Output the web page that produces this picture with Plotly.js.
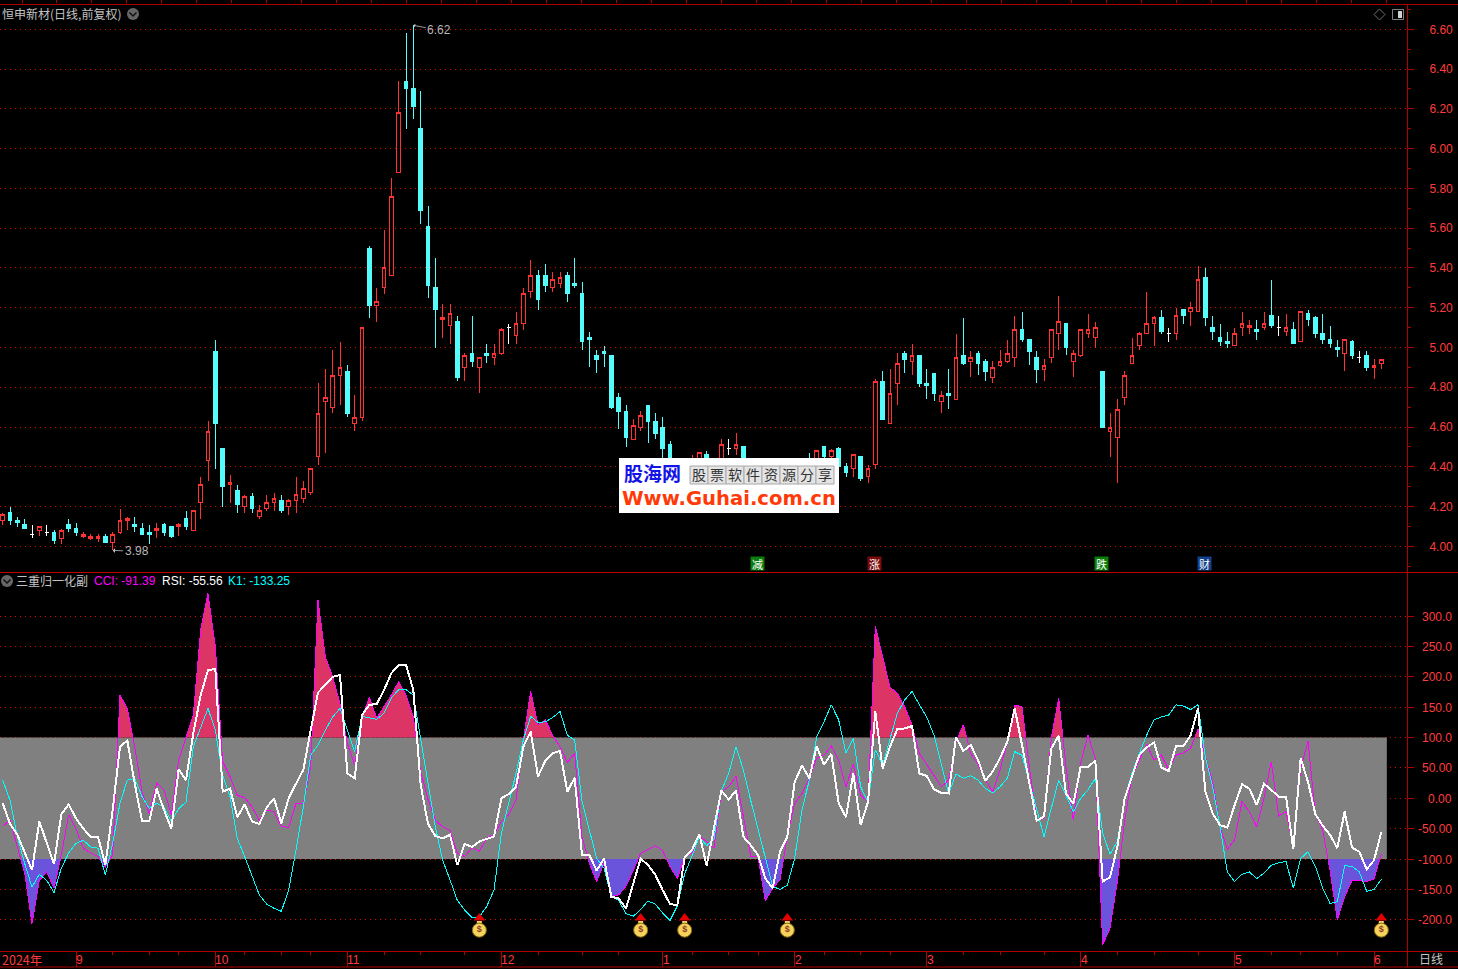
<!DOCTYPE html>
<html>
<head>
<meta charset="utf-8">
<script src="https://cdn.plot.ly/plotly-3.0.1.min.js"></script>
<style>
html,body{margin:0;padding:0;background:#000;overflow:hidden}
path.js-line{shape-rendering:crispEdges}
path.box{shape-rendering:crispEdges}
</style>
</head>
<body>
<div id="chart" style="width:1458px;height:969px"></div>
<script>
// ---------- price data, bar by bar ----------
const open = [
4.13,4.17,4.13,4.11,4.06,4.08,4.07,4.07,4.04,4.11,
4.09,4.05,4.04,4.04,4.05,4.02,4.07,4.13,4.11,4.09,
4.07,4.08,4.11,4.10,4.10,4.14,4.08,4.22,4.43,4.98,
4.49,4.31,4.28,4.20,4.25,4.15,4.19,4.22,4.23,4.20,
4.23,4.24,4.27,4.45,4.73,4.70,4.86,4.88,4.62,4.65,
5.50,5.21,5.30,5.36,5.88,6.34,6.30,6.10,5.61,5.30,
5.14,5.11,5.13,4.90,4.97,4.90,4.97,4.95,4.97,5.10,
5.06,5.12,5.28,5.36,5.36,5.30,5.32,5.36,5.32,5.27,
5.05,4.96,4.98,4.96,4.75,4.68,4.54,4.60,4.71,4.63,
4.60,4.51,4.41,4.33,4.38,4.38,4.46,4.40,4.39,4.49,
4.49,4.50,4.40,4.33,4.37,4.31,4.33,4.39,4.35,4.36,
4.43,4.41,4.50,4.45,4.49,4.40,4.39,4.45,4.35,4.41,
4.83,4.62,4.82,4.97,4.93,4.96,4.82,4.87,4.73,4.77,
4.74,4.96,4.93,4.97,4.93,4.85,4.91,4.93,4.95,5.09,
5.04,4.95,4.89,4.95,5.07,5.12,4.93,4.96,5.07,5.05,
4.88,4.58,4.55,4.75,4.92,5.01,5.07,5.12,5.15,5.07,
5.07,5.19,5.18,5.18,5.35,5.10,5.05,5.03,5.01,5.10,
5.10,5.09,5.10,5.16,5.10,5.08,5.09,5.03,5.17,5.15,
5.07,5.04,5.00,4.97,5.03,4.95,4.96,4.90,4.92];
const high = [
4.17,4.20,4.15,4.14,4.11,4.10,4.11,4.08,4.09,4.14,
4.12,4.07,4.06,4.06,4.06,4.07,4.19,4.15,4.15,4.12,
4.11,4.12,4.12,4.10,4.12,4.18,4.18,4.35,4.63,5.04,
4.49,4.36,4.31,4.26,4.27,4.21,4.26,4.27,4.26,4.24,
4.35,4.33,4.39,4.82,4.89,4.99,5.03,4.91,4.76,5.10,
5.51,5.30,5.59,5.85,6.34,6.58,6.62,6.29,5.71,5.45,
5.22,5.22,5.16,4.97,5.16,4.95,5.02,5.02,5.10,5.12,
5.18,5.30,5.44,5.39,5.42,5.38,5.38,5.38,5.45,5.33,
5.08,4.99,5.01,4.96,4.77,4.71,4.64,4.68,4.71,4.67,
4.65,4.53,4.43,4.44,4.46,4.47,4.48,4.44,4.54,4.54,
4.57,4.50,4.43,4.44,4.42,4.41,4.43,4.42,4.44,4.44,
4.47,4.48,4.50,4.49,4.50,4.42,4.46,4.45,4.41,4.84,
4.88,4.89,4.97,4.98,5.02,4.96,4.89,4.87,4.78,4.89,
5.07,5.15,4.98,4.98,4.94,4.93,4.99,5.04,5.16,5.18,
5.04,4.98,4.94,5.09,5.26,5.12,4.99,5.09,5.17,5.13,
4.88,4.67,4.74,4.88,5.05,5.08,5.28,5.16,5.19,5.10,
5.20,5.19,5.23,5.41,5.40,5.16,5.12,5.08,5.10,5.18,
5.14,5.14,5.18,5.34,5.16,5.17,5.13,5.18,5.19,5.16,
5.17,5.11,5.04,5.04,5.04,4.98,4.98,4.94,4.94];
const low = [
4.11,4.11,4.10,4.09,4.04,4.05,4.05,4.01,4.01,4.07,
4.05,4.04,4.03,4.02,4.02,3.98,4.06,4.08,4.07,4.06,
4.01,4.04,4.05,4.04,4.05,4.08,4.08,4.14,4.33,4.39,
4.20,4.22,4.17,4.17,4.17,4.14,4.18,4.18,4.17,4.16,
4.17,4.22,4.26,4.41,4.47,4.67,4.71,4.65,4.58,4.63,
5.15,5.13,5.27,5.36,5.88,6.10,6.15,5.62,5.25,5.00,
5.05,5.02,4.83,4.83,4.90,4.77,4.92,4.91,4.96,5.02,
5.02,5.09,5.25,5.19,5.28,5.28,5.30,5.23,5.30,4.99,
4.90,4.87,4.90,4.69,4.59,4.50,4.54,4.58,4.52,4.54,
4.44,4.39,4.31,4.30,4.36,4.35,4.33,4.28,4.37,4.46,
4.46,4.33,4.28,4.29,4.26,4.28,4.30,4.31,4.32,4.33,
4.34,4.37,4.43,4.41,4.39,4.35,4.35,4.33,4.32,4.39,
4.64,4.62,4.71,4.87,4.86,4.80,4.74,4.73,4.67,4.69,
4.74,4.91,4.85,4.86,4.83,4.82,4.90,4.92,4.90,5.03,
4.91,4.82,4.83,4.92,4.99,4.96,4.85,4.95,5.05,5.00,
4.60,4.45,4.32,4.71,4.92,4.99,5.07,5.01,5.07,5.03,
5.04,5.12,5.11,5.18,5.11,5.04,5.01,5.00,5.01,5.06,
5.07,5.04,5.09,5.10,5.06,5.06,5.02,5.03,5.11,5.05,
5.02,5.00,4.95,4.88,4.94,4.92,4.88,4.84,4.89];
const close = [
4.16,4.13,4.12,4.09,4.06,4.10,4.07,4.03,4.08,4.09,
4.07,4.06,4.05,4.05,4.02,4.06,4.13,4.14,4.10,4.06,
4.06,4.09,4.07,4.05,4.11,4.10,4.18,4.31,4.58,4.62,
4.30,4.32,4.21,4.25,4.19,4.18,4.22,4.24,4.18,4.23,
4.26,4.29,4.39,4.67,4.75,4.86,4.90,4.67,4.65,5.10,
5.21,5.23,5.40,5.76,6.18,6.30,6.21,5.69,5.31,5.19,
5.15,5.17,4.85,4.96,4.93,4.95,4.96,4.97,5.09,5.10,
5.12,5.27,5.36,5.24,5.31,5.34,5.35,5.27,5.31,5.03,
5.04,4.94,4.97,4.70,4.68,4.55,4.61,4.66,4.63,4.57,
4.49,4.42,4.34,4.38,4.42,4.47,4.36,4.32,4.51,4.49,
4.51,4.35,4.32,4.38,4.30,4.36,4.38,4.34,4.40,4.41,
4.37,4.48,4.45,4.48,4.40,4.37,4.46,4.34,4.39,4.83,
4.64,4.77,4.92,4.94,4.96,4.82,4.81,4.77,4.76,4.76,
4.95,4.92,4.95,4.92,4.88,4.90,4.93,4.97,5.09,5.04,
4.98,4.89,4.91,5.09,5.13,5.00,4.97,5.09,5.09,5.10,
4.60,4.60,4.69,4.86,4.96,5.07,5.12,5.15,5.08,5.07,
5.16,5.16,5.20,5.34,5.15,5.08,5.03,5.02,5.07,5.12,
5.11,5.08,5.12,5.11,5.10,5.10,5.02,5.18,5.14,5.07,
5.04,5.02,4.99,5.04,4.96,4.95,4.90,4.91,4.94];

// ---------- indicator data ----------
const cci = [
-46,-36,-80,-123,-206,-135,-121,-148,-93,-27,
-50,-82,-90,-96,-113,-93,170,148,85,11,
-25,25,14,-27,63,101,137,277,337,250,
60,36,5,1,-14,-36,-19,-22,-46,-48,
-8,-8,52,326,233,200,156,90,55,134,
166,132,151,170,192,170,134,44,-2,-36,
-47,-53,-90,-96,-81,-87,-66,-60,-38,-27,
-3,96,176,121,129,104,85,59,74,-63,
-107,-137,-107,-162,-159,-145,-118,-90,-84,-78,
-86,-112,-132,-96,-90,-63,-71,-82,11,19,
36,-30,-95,-96,-169,-148,-134,-63,-8,8,
33,66,71,86,63,19,56,5,-6,283,
233,183,173,151,121,74,56,38,19,30,
93,121,74,56,30,11,47,93,153,151,
52,-36,-33,99,165,52,-36,58,104,66,
-241,-214,-137,-36,36,63,89,63,71,47,
71,75,82,114,68,27,-47,-84,-68,-5,
-22,-47,0,60,-29,-22,-80,49,94,-25,
-52,-118,-200,-162,-135,-135,-137,-133,-91.39];
const rsi = [
-8,-42,-60,-90,-118,-38,-74,-108,-26,-10,
-33,-50,-63,-63,-110,-19,85,95,25,-37,
-37,16,-19,-50,48,30,107,170,211,213,
11,16,-31,-10,-38,-42,-15,0,-41,0,
24,47,112,174,187,200,203,41,33,137,
154,155,178,206,219,220,178,22,-42,-62,
-66,-60,-110,-75,-80,-71,-67,-63,0,7,
19,85,110,36,62,74,78,11,34,-93,
-93,-119,-99,-162,-165,-181,-140,-99,-110,-126,
-151,-174,-176,-97,-85,-59,-111,-49,13,-2,
13,-63,-77,-93,-132,-148,-88,-63,27,54,
33,86,55,73,-8,-31,41,-44,-6,143,
49,85,114,115,119,41,37,15,9,8,
101,78,88,63,29,44,66,93,148,88,
25,-37,-30,82,103,8,-9,52,52,62,
-137,-130,-80,0,36,71,84,92,51,45,
86,86,104,148,11,-25,-44,-48,-11,23,
16,-11,24,13,3,3,-84,66,27,-26,
-45,-60,-82,-22,-81,-88,-117,-102,-55.56];
const k1 = [
30,-3,-63,-107,-146,-125,-135,-155,-115,-90,
-74,-69,-80,-82,-126,-74,-8,30,33,3,
-17,-8,-14,-38,-17,-6,85,118,148,112,
38,3,-66,-96,-129,-159,-174,-181,-186,-151,
-85,-14,71,88,112,134,148,112,77,135,
133,130,140,165,179,179,170,101,25,-47,
-102,-134,-168,-184,-196,-195,-178,-151,-58,-8,
41,96,135,125,126,133,143,104,96,-5,
-52,-99,-115,-161,-168,-190,-194,-183,-169,-174,
-189,-201,-177,-124,-95,-63,-78,-67,12,41,
85,47,-3,-52,-99,-145,-150,-143,-99,-19,
30,101,126,154,129,74,99,19,-6,80,
55,96,140,162,176,154,134,104,58,8,
40,33,37,30,16,9,19,33,77,71,
27,-19,-63,-16,30,5,-22,0,14,33,
-57,-92,-71,0,41,74,104,129,134,137,
154,152,146,154,68,19,-47,-121,-137,-125,
-121,-132,-123,-110,-106,-104,-148,-99,-88,-112,
-148,-173,-170,-111,-112,-121,-153,-150,-133.25];

// ---------- calendar axis, labels, signals ----------
const monthIdx = [10,29,47,68,90,108,126,147,168,187];
const monthLabels = ['9','10','11','12','1','2','3','4','5','6'];
const weekIdx = [15,20,24,33,38,42,52,57,63,73,79,84,94,99,103,112,117,121,131,136,142,152,157,163,173,177,182];
const subTickVals = [300,250,200,150,100,50,0,-50,-100,-150,-200];
const subTickText = ['300.0','250.0','200.0','150.0','100.0','50.00','0.00','-50.00','-100.0','-150.0','-200.0'];
const signalIdx = [65,87,93,107,188];
const badgeIdx = [103,119,150,164];
const badgeText = ['减','涨','跌','财'];
const badgeColor = ['#0b7d0b','#7a0c0c','#0b7d0b','#12408c'];
const highIdx = 56, lowIdx = 15;

// ---------- styling ----------
const RED='#ff3c3c', LINE='#b00000', GRID='#e00000', CYAN='#54fcfc', TXT='#c4c4c4';
const SANS='"Liberation Sans",Arial,sans-serif', CJK='"Noto Sans CJK SC","Liberation Sans",sans-serif';
const W=1458, H=969, L=1407, TOP=4, BOT=951, PH=BOT-TOP;
const px=x=>x/L, py=y=>(BOT-y)/PH;
const idx=open.map((_,i)=>i);

function pick(test){
  const ii=idx.filter(test);
  return {x:ii,open:ii.map(i=>open[i]),high:ii.map(i=>high[i]),low:ii.map(i=>low[i]),close:ii.map(i=>close[i])};
}
function candle(sel,lineC,fillC){
  return Object.assign({type:'candlestick',xaxis:'x',yaxis:'y',hoverinfo:'skip',whiskerwidth:0,
    increasing:{line:{color:lineC,width:1},fillcolor:fillC},
    decreasing:{line:{color:lineC,width:1},fillcolor:fillC}},sel);
}
function regions(vals,level,sign){
  const xs=[],ys=[];let on=false;
  vals.forEach((v,i)=>{
    const over=sign*(v-level)>0;
    if(over&&!on){
      if(i>0){xs.push(i-1+(level-vals[i-1])/(v-vals[i-1]));}else{xs.push(i);}
      ys.push(level);on=true;
    }
    if(over){xs.push(i);ys.push(v);}
    if(!over&&on){
      xs.push(i-1+(level-vals[i-1])/(v-vals[i-1]));ys.push(level);
      xs.push(null);ys.push(null);on=false;
    }
  });
  if(on){xs.push(vals.length-1);ys.push(level);}
  return {x:xs,y:ys};
}
function area(r,color){
  return {type:'scatter',mode:'lines',x:r.x,y:r.y,xaxis:'x2',yaxis:'y2',fill:'toself',fillcolor:color,
    line:{width:0,color:color},hoverinfo:'skip'};
}
function ind(y,color,width){
  return {type:'scatter',mode:'lines',x:idx,y:y,xaxis:'x2',yaxis:'y2',line:{color:color,width:width},hoverinfo:'skip'};
}

const traces=[
  candle(pick(i=>close[i]>open[i]),'#ff3232','#000000'),
  candle(pick(i=>close[i]<open[i]),CYAN,CYAN),
  candle(pick(i=>close[i]===open[i]),'#ffffff','#ffffff'),
  area(regions(cci,100,1),'#dc3565'),
  area(regions(cci,-100,-1),'#6a54dc'),
  ind(cci,'#ff00ff',1),
  ind(k1,'#00ffff',1),
  ind(rsi,'#ffffff',2),
  {type:'scatter',mode:'markers',x:signalIdx,y:signalIdx.map(()=>-197),xaxis:'x2',yaxis:'y2',cliponaxis:false,hoverinfo:'skip',
    marker:{symbol:'triangle-up',size:10,color:'#e60000',line:{width:0}}},
  {type:'scatter',mode:'markers',x:signalIdx,y:signalIdx.map(()=>-206),xaxis:'x2',yaxis:'y2',hoverinfo:'skip',
    marker:{symbol:'square',size:5,color:'#f4d36a',line:{width:0}}},
  {type:'scatter',mode:'markers+text',x:signalIdx,y:signalIdx.map(()=>-217),xaxis:'x2',yaxis:'y2',hoverinfo:'skip',
    text:signalIdx.map(()=>'<b>$</b>'),textposition:'middle center',textfont:{size:9,color:'#8b3a2a',family:SANS},
    marker:{symbol:'circle',size:14,color:'#f6d35a',line:{width:1,color:'#8a6a10'}}}
];

// ---------- annotations ----------
const ann=[];
function label(x,y,text,color,size,anchor,family){
  ann.push({xref:'paper',yref:'paper',x:px(x),y:py(y),text:text,showarrow:false,xanchor:anchor||'left',yanchor:'middle',
    font:{color:color,size:size||12,family:family||SANS},borderpad:0});
}
label(1,14,'恒申新材(日线,前复权)',TXT,12,'left',CJK);
label(15,580.5,'三重归一化副',TXT,12,'left',CJK);
label(93,581,'CCI: '+cci[cci.length-1].toFixed(2),'#ff00ff');
label(160.5,581,'RSI: '+rsi[rsi.length-1].toFixed(2),'#ffffff');
label(226.5,581,'K1: '+k1[k1.length-1].toFixed(2),'#00ffff');
label(1418.5,959,'日线',TXT,12,'left',CJK);

subTickVals.forEach((v,i)=>ann.push({xref:'paper',yref:'y2',x:px(1454),y:v,text:subTickText[i],showarrow:false,
  xanchor:'right',yanchor:'middle',yshift:-0.5,font:{color:RED,size:12,family:SANS}}));

ann.push({xref:'x2',yref:'paper',x:0,y:py(959.5),text:'2024年',showarrow:false,xanchor:'left',yanchor:'middle',xshift:-2,
  font:{color:RED,size:12.5,family:CJK},borderpad:0});
monthIdx.forEach((m,i)=>ann.push({xref:'x2',yref:'paper',x:m,y:py(959.5),text:monthLabels[i],showarrow:false,
  xanchor:'left',yanchor:'middle',xshift:-2,font:{color:RED,size:12,family:SANS}}));

ann.push({xref:'x',yref:'y',x:highIdx,y:high[highIdx],text:high[highIdx].toFixed(2),ax:26,ay:5,showarrow:true,
  arrowhead:1,arrowsize:0.8,arrowwidth:0.8,arrowcolor:'#c0c0c0',font:{color:'#b8b8b8',size:12,family:SANS}});
ann.push({xref:'x',yref:'y',x:lowIdx,y:low[lowIdx],text:low[lowIdx].toFixed(2),ax:24,ay:1,showarrow:true,
  arrowhead:1,arrowsize:1,arrowwidth:0.8,arrowcolor:'#c0c0c0',font:{color:'#b8b8b8',size:12,family:SANS}});

badgeIdx.forEach((b,i)=>ann.push({xref:'x',yref:'y',x:b,y:3.915,xshift:-0.7,text:badgeText[i],showarrow:false,
  bgcolor:badgeColor[i],width:13,height:13,borderpad:0,font:{color:'#ffffff',size:11,family:CJK}}));

// watermark text
label(652,472.5,'<b>股海网</b>','#1414e6',19,'center',CJK);
label(729.5,498,'<b>Www.Guhai.com.cn</b>','#ff3a08',19.6,'center','"DejaVu Sans",sans-serif');
const wmChars='股票软件资源分享'.split('');
wmChars.forEach((c,i)=>label(699+18*i,474.5,c,'#333333',14,'center',CJK));

// ---------- decorations ----------
const shapes=[
  {type:'rect',xref:'x2',yref:'y2',x0:-0.5,x1:188.75,y0:-100,y1:100,fillcolor:'#808080',line:{width:0},layer:'between'}
];
function hline(y,col){shapes.push({type:'line',xref:'paper',yref:'paper',x0:0,x1:px(W),y0:py(y),y1:py(y),line:{color:col,width:1},layer:'above'});}
hline(4.5,LINE);hline(572.5,'#c00000');hline(951.5,LINE);hline(967,LINE);
shapes.push({type:'line',xref:'paper',yref:'paper',x0:px(1407.5),x1:px(1407.5),y0:py(4),y1:py(967),line:{color:LINE,width:1},layer:'above'});
function chevronIcon(cx,cy){
  shapes.push({type:'circle',xref:'paper',yref:'paper',x0:px(cx-6),x1:px(cx+6),y0:py(cy-6),y1:py(cy+6),fillcolor:'#666666',line:{width:0},layer:'above'});
  shapes.push({type:'path',xref:'paper',yref:'paper',path:`M ${px(cx-3.5)} ${py(cy-1.5)} L ${px(cx)} ${py(cy+2)} L ${px(cx+3.5)} ${py(cy-1.5)}`,line:{color:'#111111',width:1.5},layer:'above'});
}
chevronIcon(133,14);chevronIcon(7,581);
shapes.push({type:'path',xref:'paper',yref:'paper',path:`M ${px(1374)} ${py(14.5)} L ${px(1379.5)} ${py(9)} L ${px(1385)} ${py(14.5)} L ${px(1379.5)} ${py(20)} Z`,line:{color:'#707070',width:1},layer:'above'});
shapes.push({type:'rect',xref:'paper',yref:'paper',x0:px(1392.5),x1:px(1403.5),y0:py(9.5),y1:py(19.5),line:{color:'#808080',width:1},layer:'above'});
shapes.push({type:'rect',xref:'paper',yref:'paper',x0:px(1398),x1:px(1402),y0:py(11),y1:py(18),fillcolor:'#d0d0d0',line:{width:0},layer:'above'});
// watermark plate
shapes.push({type:'rect',xref:'paper',yref:'paper',x0:px(619),x1:px(839),y0:py(458),y1:py(513),fillcolor:'#ffffff',line:{width:0},layer:'above'});
wmChars.forEach((c,i)=>shapes.push({type:'rect',xref:'paper',yref:'paper',x0:px(690+18*i),x1:px(708+18*i),y0:py(466),y1:py(484),fillcolor:'#e4e4e4',line:{color:'#a8a8a8',width:1},layer:'above'}));

const xRange=[-0.364,191.5];
const layout={
  width:W,height:H,
  margin:{l:0,r:W-L,t:TOP,b:H-BOT,pad:0},
  paper_bgcolor:'#000000',plot_bgcolor:'#000000',showlegend:false,
  boxmode:'overlay',boxgap:0.28,
  xaxis:{domain:[0,1],range:xRange,anchor:'y',side:'top',type:'linear',fixedrange:true,
    rangeslider:{visible:false},showgrid:false,zeroline:false,showticklabels:false,showline:false,
    ticks:'outside',ticklen:4,tickcolor:LINE,tickmode:'linear',tick0:2.636,dtick:4.77},
  xaxis2:{domain:[0,1],range:xRange,anchor:'y2',side:'bottom',type:'linear',fixedrange:true,
    showgrid:false,zeroline:false,showticklabels:false,showline:false,
    ticks:'outside',ticklen:15,tickcolor:LINE,tickmode:'array',tickvals:monthIdx,
    minor:{ticks:'outside',ticklen:3,tickcolor:LINE,tickmode:'array',tickvals:weekIdx,showgrid:false}},
  yaxis:{domain:[py(572),1],range:[3.8713,6.7272],anchor:'x',side:'right',fixedrange:true,
    tickmode:'linear',tick0:4,dtick:0.2,tickformat:'.2f',
    tickfont:{color:RED,size:12,family:SANS},ticklabelstandoff:13,
    ticks:'outside',ticklen:6,tickcolor:LINE,showline:false,zeroline:false,
    showgrid:true,gridcolor:GRID,griddash:'1px,4px',gridwidth:1,
    minor:{ticks:'outside',ticklen:3,tickcolor:LINE,dtick:0.1,tick0:4,showgrid:false}},
  yaxis2:{domain:[0,py(573)],range:[-251.3,370.9],anchor:'x2',side:'right',fixedrange:true,
    tickmode:'array',tickvals:subTickVals,showticklabels:false,
    ticks:'outside',ticklen:6,tickcolor:LINE,showline:false,zeroline:false,
    showgrid:true,gridcolor:GRID,griddash:'1px,4px',gridwidth:1},
  annotations:ann,
  shapes:shapes
};
Plotly.newPlot('chart',traces,layout,{displayModeBar:false,responsive:false});
</script>
</body>
</html>
